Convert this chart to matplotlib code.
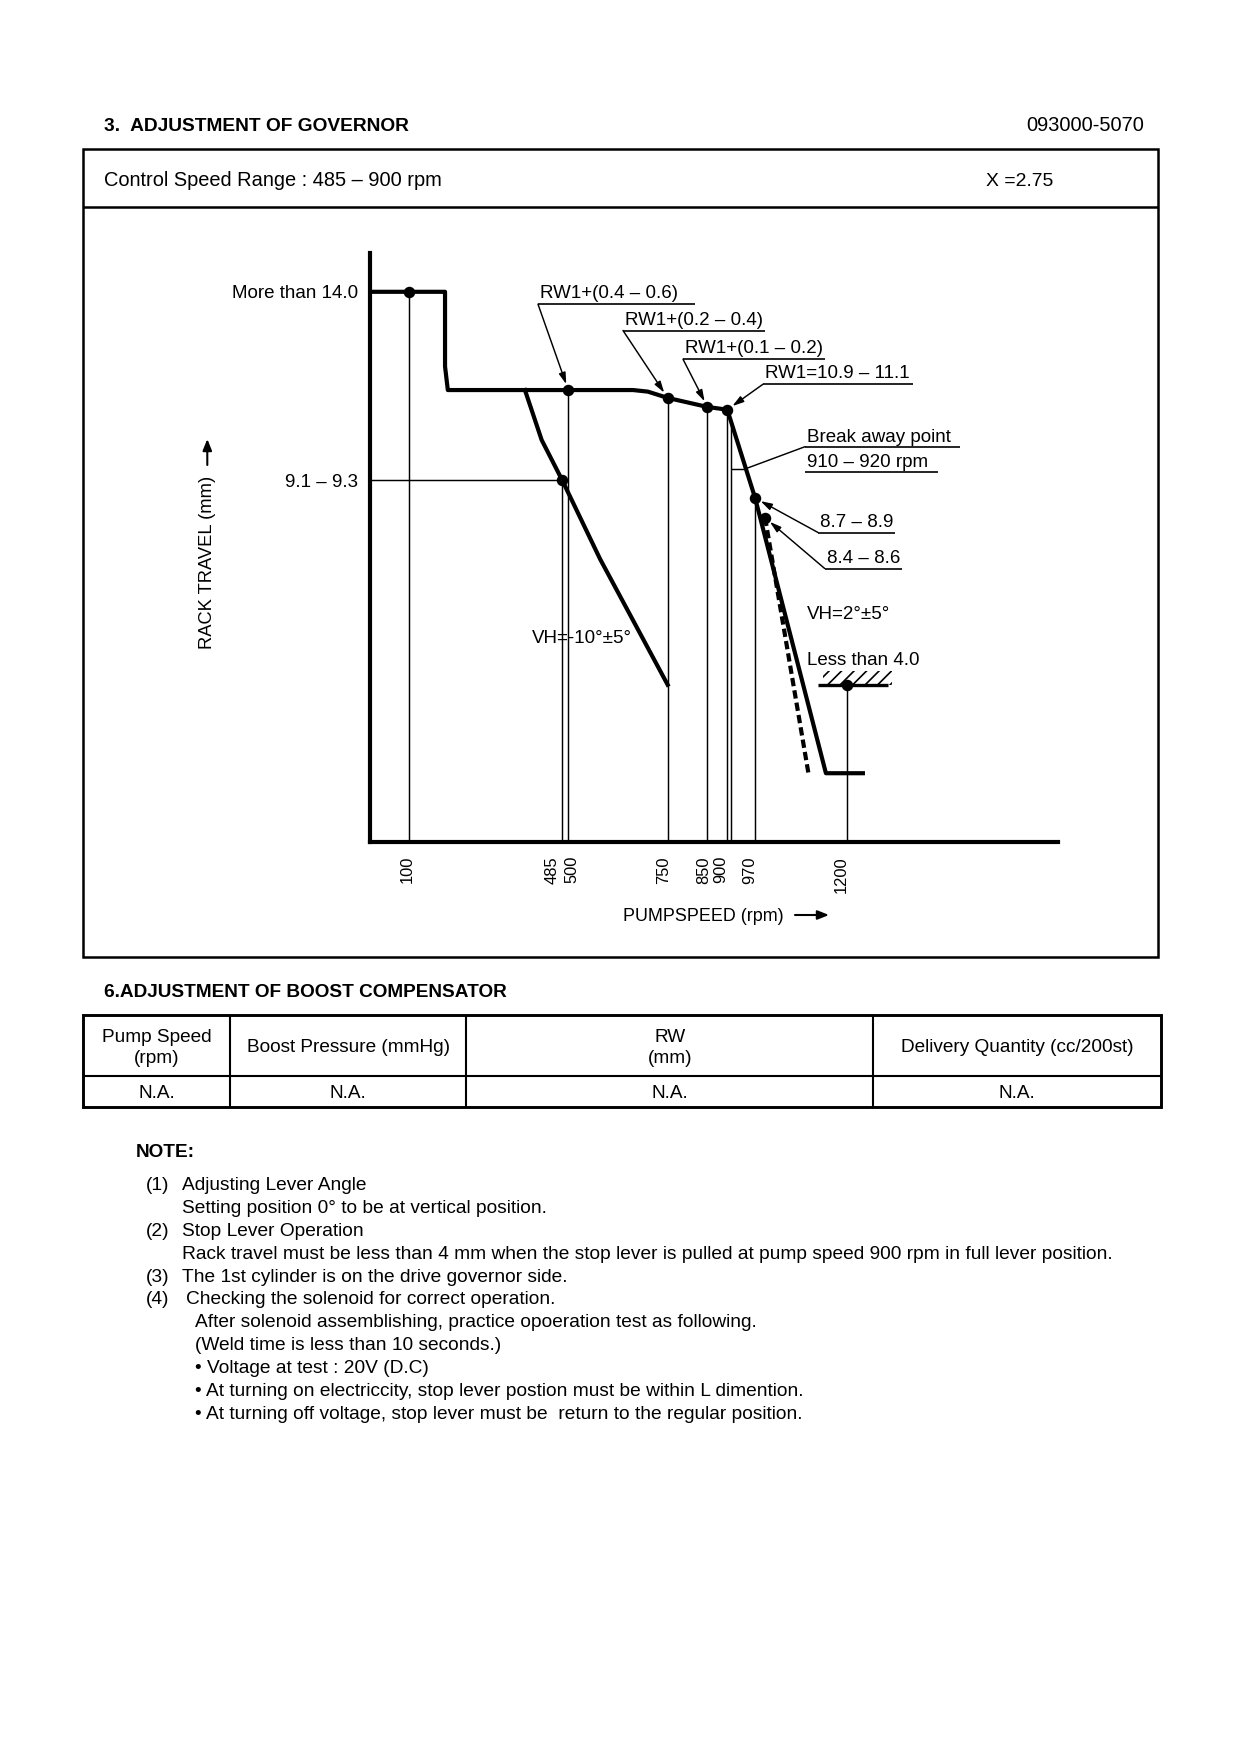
import numpy as np
import matplotlib.pyplot as plt
import matplotlib.transforms as mtransforms
from matplotlib.patches import Rectangle

plt.rcParams['font.family'] = ['Liberation Sans', 'DejaVu Sans']
plt.rcParams['hatch.linewidth'] = 0.8

# governor curve (pump speed rpm / rack travel mm)
governor_rpm = [0, 190, 190, 197, 663, 700, 722, 750, 850, 900, 970, 1148, 1241]
governor_mm = [14.0, 14.0, 12.1, 11.5, 11.5, 11.46, 11.39, 11.3, 11.07, 11.0, 8.75, 1.75, 1.75]

# VH=-10° line
droop_rpm = [391, 433, 485, 580, 750]
droop_mm = [11.5, 10.23, 9.2, 7.2, 4.0]

# VH=2° (dashed)
dashed_rpm = [995, 1104]
dashed_mm = [8.25, 1.75]

# measuring points (dots)
check_rpm = [100, 485, 500, 750, 850, 900, 970, 995, 1200]
check_mm = [14.0, 9.2, 11.5, 11.3, 11.07, 11.0, 8.75, 8.25, 4.0]

guide_rpm = [100, 485, 500, 750, 850, 900, 910, 970, 1200]

tick_rpm = [100, 485, 500, 750, 850, 900, 970, 1200]
tick_labels = ['100', '485', '500', '750', '850', '900', '970', '1200']

ytick_mm = [9.2, 14.0]
ytick_labels = ['9.1 – 9.3', 'More than 14.0']

breakaway_rpm = 910
breakaway_mm = 9.5
stop_mm = 4.0
stop_rpm = [1128, 1305]

leader_labels = ['RW1+(0.4 – 0.6)', 'RW1+(0.2 – 0.4)', 'RW1+(0.1 – 0.2)',
                 'RW1=10.9 – 11.1', '8.7 – 8.9', '8.4 – 8.6']
leader_points = [2, 3, 4, 5, 6, 7]   # index into check_rpm / check_mm

boost_headers = [['Pump Speed', '(rpm)'], ['Boost Pressure (mmHg)'],
                 ['RW', '(mm)'], ['Delivery Quantity (cc/200st)']]
boost_values = ['N.A.', 'N.A.', 'N.A.', 'N.A.']

note_nums = ['(1)', '', '(2)', '', '(3)', '(4)', '', '', '', '', '']
note_lines = [
    'Adjusting Lever Angle',
    'Setting position 0° to be at vertical position.',
    'Stop Lever Operation',
    'Rack travel must be less than 4 mm when the stop lever is pulled at pump speed 900 rpm in full lever position.',
    'The 1st cylinder is on the drive governor side.',
    'Checking the solenoid for correct operation.',
    'After solenoid assemblishing, practice opoeration test as following.',
    '(Weld time is less than 10 seconds.)',
    '• Voltage at test : 20V (D.C)',
    '• At turning on electriccity, stop lever postion must be within L dimention.',
    '• At turning off voltage, stop lever must be  return to the regular position.',
]

DPI = 150
fig = plt.figure(figsize=(1240 / DPI, 1754 / DPI), dpi=DPI)
fig.patch.set_facecolor('white')

# page layer in pixel units, y downwards
page = fig.add_axes([0, 0, 1, 1])
page.set_xlim(0, 1240)
page.set_ylim(1754, 0)
page.axis('off')


def ptext(x, y, s, size=9.2, **kw):
    # y is the middle of the capitals
    page.text(x, y + 0.358 * size * DPI / 72, s, fontsize=size, va='baseline', **kw)


def hline(x0, x1, y, lw=0.8):
    page.plot([x0, x1], [y, y], color='k', lw=lw, solid_capstyle='butt')


def vline(x, y0, y1, lw=0.8):
    page.plot([x, x], [y0, y1], color='k', lw=lw, solid_capstyle='butt')


# header
ptext(104, 124, '3.  ADJUSTMENT OF GOVERNOR', size=9.2, fontweight='bold')
ptext(1144, 124, '093000-5070', size=9.6, ha='right')

# governor box
page.add_patch(Rectangle((82.7, 148.7), 1158.4 - 82.7, 957 - 148.7,
                         fill=False, lw=1.2, edgecolor='k'))
hline(82.7, 1158.4, 206.8, lw=1.2)
ptext(104, 179, 'Control Speed Range : 485 – 900 rpm', size=9.6)
ptext(986, 179, 'X =2.75', size=9.3)

# chart
ax = fig.add_axes([369.5 / 1240, 1 - 842 / 1754, (1057.7 - 369.5) / 1240, (842 - 252.5) / 1754])
ax.set_xlim(0, 1731)
ax.set_ylim(0, 15.0)
ax.patch.set_alpha(0)
for s in ['top', 'right']:
    ax.spines[s].set_visible(False)
for s in ['left', 'bottom']:
    ax.spines[s].set_linewidth(2.0)
ax.set_xticks([])
ax.set_yticks(ytick_mm, labels=ytick_labels)
ax.tick_params(axis='y', length=0, pad=5.5, labelsize=9)

thin = 0.7
tops = dict(zip(check_rpm, check_mm))
for r in guide_rpm:
    top = tops.get(r, np.interp(r, governor_rpm, governor_mm))
    ax.vlines(r, 0, top, color='k', lw=thin)
ax.hlines(ytick_mm[0], 0, droop_rpm[2], color='k', lw=thin)

ax.plot(governor_rpm, governor_mm, color='k', lw=2.0)
ax.plot(droop_rpm, droop_mm, color='k', lw=2.0)
ax.plot(dashed_rpm, dashed_mm, color='k', lw=2.0, linestyle=(0, (2, 1)))
ax.plot(check_rpm, check_mm, 'o', color='k', ms=4.5)

# break away tick
seg_rpm = governor_rpm[9:11]
seg_mm = governor_mm[9:11]
brk_x = np.interp(breakaway_mm, seg_mm[::-1], seg_rpm[::-1])
ax.hlines(breakaway_mm, breakaway_rpm, brk_x, color='k', lw=thin)

# stopper
ax.hlines(stop_mm, stop_rpm[0], stop_rpm[1], color='k', lw=1.6)
ax.add_patch(Rectangle((stop_rpm[0] + 12, stop_mm), stop_rpm[1] - stop_rpm[0] - 2, 0.36,
                       hatch='////', fill=False, edgecolor='k', lw=0))

# x tick labels
label_dx = [-2, -10, 4, -4, -4, -7, -5, -5]
blend = mtransforms.blended_transform_factory(ax.transData, ax.transAxes)
for r, lab, dx in zip(tick_rpm, tick_labels, label_dx):
    off = mtransforms.ScaledTranslation(dx / DPI, -14 / DPI, fig.dpi_scale_trans)
    ax.text(r, 0, lab, transform=blend + off, rotation=90, ha='center', va='top', fontsize=7.9)

# leaders with underlined labels (page pixels)
leader_pos = [(540, 291.7, 695), (625, 318, 765), (685, 346.7, 825),
              (765, 371.7, 913), (820, 520, 895), (826.7, 556, 901.7)]
head = '-|>,head_length=0.5,head_width=0.15'
for lab, idx, (x0, yc, x1) in zip(leader_labels, leader_points, leader_pos):
    ptext(x0, yc, lab, size=9)
    yl = yc + 12.5
    hline(x0 - 2, x1, yl)
    ax.annotate('', xy=(check_rpm[idx], check_mm[idx]), xycoords='data',
                xytext=(x0 - 2, yl), textcoords=page.transData, annotation_clip=False,
                arrowprops=dict(arrowstyle=head, color='k', lw=0.7, mutation_scale=9,
                                shrinkA=0, shrinkB=3))

ptext(806.7, 435, 'Break away point', size=9)
hline(805, 960, 446.7)
ptext(806.7, 460, '910 – 920 rpm', size=9)
hline(805, 938, 471.7)
ax.annotate('', xy=(brk_x, breakaway_mm), xycoords='data', xytext=(805, 446.7),
            textcoords=page.transData, annotation_clip=False,
            arrowprops=dict(arrowstyle='-', color='k', lw=0.7, shrinkA=0, shrinkB=0))

ptext(806.7, 612.7, 'VH=2°±5°', size=9)
ptext(806.7, 658.3, 'Less than 4.0', size=9)
ptext(531.7, 636.7, 'VH=-10°±5°', size=9)

# axis titles
page.text(207.3, 562, 'RACK TRAVEL (mm)', rotation=90, ha='center', va='center', fontsize=8.8)
page.annotate('', xy=(207.3, 439), xytext=(207.3, 465),
              arrowprops=dict(arrowstyle='-|>,head_length=0.5,head_width=0.2', color='k',
                              lw=1.0, mutation_scale=9, shrinkA=0, shrinkB=0))
ptext(623.3, 915, 'PUMPSPEED (rpm)', size=8.6)
page.annotate('', xy=(829, 915), xytext=(795, 915),
              arrowprops=dict(arrowstyle='-|>,head_length=0.5,head_width=0.2', color='k',
                              lw=1.0, mutation_scale=9, shrinkA=0, shrinkB=0))

# boost compensator table
ptext(104, 990.6, '6.ADJUSTMENT OF BOOST COMPENSATOR', size=9.1, fontweight='bold')
col_x = [82.7, 230.3, 466.2, 873.2, 1160.6]
row_y = [1015.2, 1075.6, 1107]
page.add_patch(Rectangle((col_x[0], row_y[0]), col_x[-1] - col_x[0], row_y[-1] - row_y[0],
                         fill=False, lw=1.4, edgecolor='k'))
for x in col_x[1:-1]:
    vline(x, row_y[0], row_y[-1], lw=1.0)
hline(col_x[0], col_x[-1], row_y[1], lw=1.0)
for i, (hdr, val) in enumerate(zip(boost_headers, boost_values)):
    cx = (col_x[i] + col_x[i + 1]) / 2
    cy = (row_y[0] + row_y[1]) / 2
    n = len(hdr)
    for j, s in enumerate(hdr):
        ptext(cx, cy + (j - (n - 1) / 2) * 21.2, s, size=9.1, ha='center')
    ptext(cx, (row_y[1] + row_y[2]) / 2, val, size=9.1, ha='center')

# notes
ptext(135.3, 1150.5, 'NOTE:', size=9.1, fontweight='bold')
note_x = [182.3, 182.3, 182.3, 182.3, 182.3, 185.6, 194.5, 194.5, 194.5, 194.5, 194.5]
for i, (num, line) in enumerate(zip(note_nums, note_lines)):
    y = 1183 + 22.92 * i
    if num:
        ptext(145.4, y, num, size=9.2)
    ptext(note_x[i], y, line, size=9.2)

fig.savefig('out.png', dpi=DPI, facecolor='white')
